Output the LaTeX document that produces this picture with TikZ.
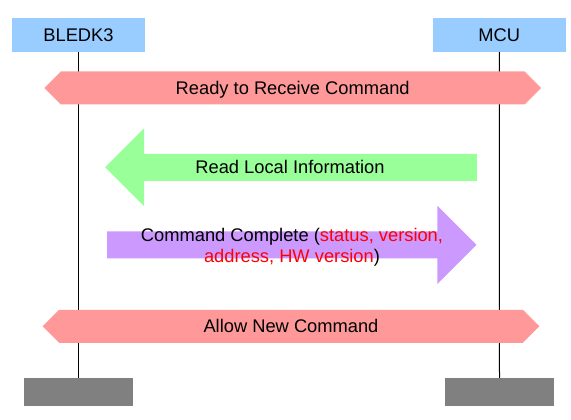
\documentclass[tikz,border=0pt]{standalone}
\usepackage{fontspec}
\setmainfont{Liberation Sans}
\usetikzlibrary{shapes.arrows}

\definecolor{lifeblue}{HTML}{99CCFF}
\definecolor{statered}{HTML}{FF9999}
\definecolor{cmdgreen}{HTML}{99FF99}
\definecolor{evtpurple}{HTML}{CC99FF}
\definecolor{endgray}{HTML}{808080}

\begin{document}
\begin{tikzpicture}[
        x=1pt, y=-1pt,
        every node/.style={font=\fontsize{18.3}{21}\selectfont, inner sep=0pt},
        entity/.style={fill=lifeblue, minimum width=133pt, minimum height=33.7pt},
        stopbox/.style={fill=endgray, minimum width=109pt, minimum height=28pt},
        state/.style={double arrow, fill=statered, double arrow head extend=0pt, double arrow tip angle=90, inner ysep=16.3pt, minimum height=496.7pt},
        message/.style={single arrow, single arrow head extend=25.5pt, single arrow tip angle=90, inner ysep=13.35pt},
        lifeline/.style={line width=1pt}
    ]
    \useasboundingbox (0,0) rectangle (571,420);

    % Nodes
    \node [entity] (bledk) at (78.5,34.9) {BLEDK3};
    \node [entity] (mcu) at (499.3,34.9) {MCU};
    \node [stopbox] (bledkend) at (78.5,392) {};
    \node [stopbox] (mcuend) at (499.5,392) {};

    % Lifelines
    \draw [lifeline] (bledk.south) -- (bledkend.north);
    \draw [lifeline] (mcu.south) -- (mcuend.north);

    % States and messages
    \node [state, label={[yshift=-1.5pt]center:Ready to Receive Command}] (ready) at (292.7,88) {};
    \node [message, fill=cmdgreen, shape border rotate=180, minimum height=371.7pt,
        label={[xshift=-7.8pt]center:Read Local Information}] (readinfo) at (297.8,167.3) {};
    \node [message, fill=evtpurple, minimum height=369.4pt,
        label={[align=center, xshift=7pt, yshift=-2pt]center:Command Complete (\textcolor{red}{status, version,}\\\textcolor{red}{address, HW version})}] (cmdcomplete) at (285,244.8) {};
    \node [state, label=center:Allow New Command] (allownew) at (291,326.3) {};

\end{tikzpicture}
\end{document}
